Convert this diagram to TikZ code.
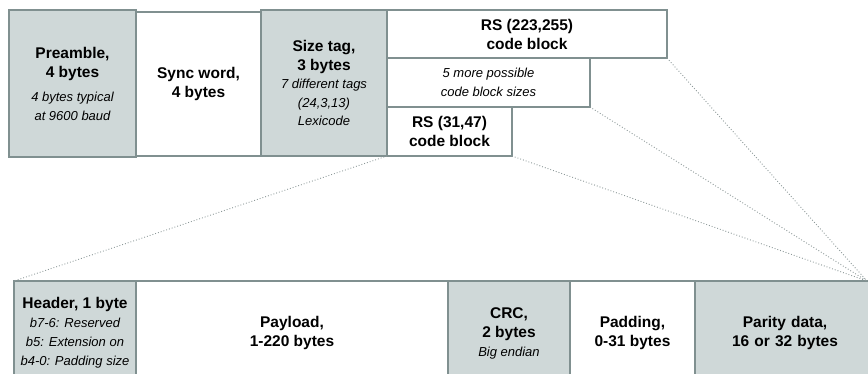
\documentclass[tikz,border=0pt]{standalone}
\usepackage{fontspec}
\setmainfont{Liberation Sans}
\definecolor{boxgray}{RGB}{207,216,216}
\definecolor{edgegray}{RGB}{128,144,144}
\definecolor{dotgray}{RGB}{140,152,152}
\newcommand{\sm}{\fontsize{13}{19}\selectfont\itshape\mdseries}
\begin{document}
\begin{tikzpicture}[x=1pt,y=-1pt,
  field/.style={draw=edgegray, line width=1.3pt, fill=white, anchor=north west,
    inner sep=0pt, outer sep=0pt, align=center,
    font=\fontsize{15.5}{19}\selectfont\bfseries},
  shaded/.style={field, fill=boxgray},
  zoomline/.style={draw=dotgray, line width=0.9pt, dotted}]
\useasboundingbox (0,0) rectangle (868,374);
\clip (0,0) rectangle (868,374);

% top row: frame fields
\node[field, minimum width=125pt, minimum height=144pt] (sync) at (136,12)
  {Sync word,\\4 bytes};
\node[shaded, minimum width=127pt, minimum height=147pt] (pre) at (9,10)
  {Preamble,\\4 bytes\\[5pt]{\sm 4 bytes typical}\\{\sm at 9600 baud}};
\node[shaded, minimum width=126pt, minimum height=146pt,
  font=\fontsize{15.5}{18.5}\selectfont\bfseries] (tag) at (261,10)
  {Size tag,\\3 bytes\\{\sm 7 different tags}\\{\sm (24,3,13)}\\{\sm Lexicode}};

% code block alternatives
\node[field, minimum width=280pt, minimum height=48pt] (rsbig) at (387,10)
  {RS (223,255)\\code block};
\node[field, minimum width=203pt, minimum height=49pt] (five) at (387,58)
  {{\sm 5 more possible}\\{\sm code block sizes}};
\node[field, minimum width=125pt, minimum height=49pt] (rssmall) at (387,107)
  {RS (31,47)\\code block};

% bottom row: code block contents
\node[shaded, minimum width=122pt, minimum height=104pt] (hdr) at (14,281)
  {Header, 1 byte\\{\sm b7-6: Reserved}\\{\sm b5: Extension on}\\{\sm b4-0: Padding size}};
\node[field, minimum width=312pt, minimum height=104pt] (pay) at (136,281)
  {Payload,\\1-220 bytes};
\node[shaded, minimum width=122pt, minimum height=104pt] (crc) at (448,281)
  {CRC,\\2 bytes\\{\sm Big endian}};
\node[field, minimum width=125pt, minimum height=104pt] (pad) at (570,281)
  {Padding,\\0-31 bytes};
\node[shaded, minimum width=180pt, minimum height=104pt, text width=173pt] (par) at (695,281)
  {Parity data,\\16 or 32 bytes};

% expansion lines
\coordinate (conv) at (867,281);
\draw[zoomline] (rssmall.south west) -- (hdr.north west);
\draw[zoomline] (rssmall.south east) -- (conv);
\draw[zoomline] (five.south east) -- (conv);
\draw[zoomline] (rsbig.south east) -- (conv);
\end{tikzpicture}
\end{document}
